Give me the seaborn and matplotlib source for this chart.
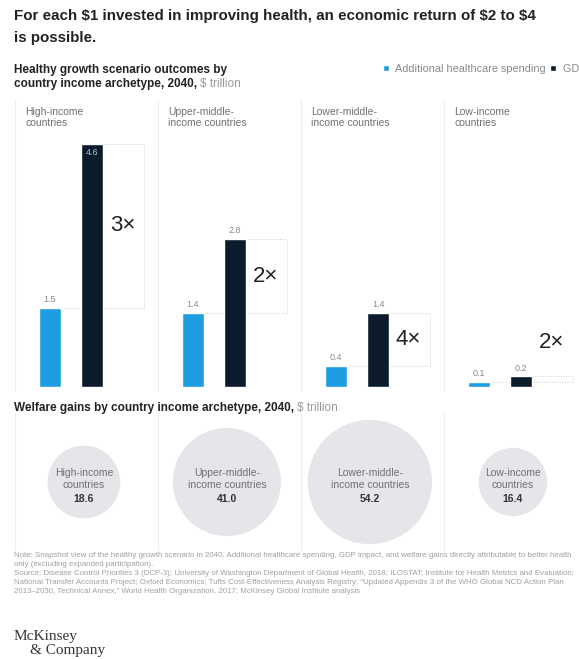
import pandas as pd
import matplotlib.pyplot as plt
import seaborn as sns
import numpy as np

# DATOS

archetypes = [
    "High-income\ncountries",
    "Upper-middle-\nincome countries",
    "Lower-middle-\nincome countries",
    "Low-income\ncountries",
]
measures = ["Additional healthcare spending", "GDP impact"]
spending = [1.5, 1.4, 0.4, 0.1]
gdp_impact = [4.6, 2.8, 1.4, 0.2]
multipliers = ["3×", "2×", "4×", "2×"]
welfare_gains = [18.6, 41.0, 54.2, 16.4]

BLUE = "#1F9DE3"
DARK = "#0B1B2B"
GREY_TXT = "#707070"
LINE = "#D0D0D0"

df = pd.DataFrame({
    "archetype": archetypes * 2,
    "measure": [measures[0]] * 4 + [measures[1]] * 4,
    "value": spending + gdp_impact,
})
df_w = pd.DataFrame({
    "x": np.arange(len(archetypes)) + 0.09,
    "y": np.zeros(len(archetypes)),
    "welfare": welfare_gains,
})

# FIGURA

sns.set_theme(style="white")
plt.rcParams["font.family"] = ["Liberation Sans", "DejaVu Sans"]

W, H = 579, 659
fig = plt.figure(figsize=(W / 100, H / 100), dpi=100)


def fx(px):
    return px / W


def fy(py):
    return 1 - py / H


XLIM = (-71 / 143, (W - 71) / 143)

# Gráfico 1: barras

ax = fig.add_axes([0, fy(392), 1, (392 - 100) / H])
sns.barplot(
    data=df, x="archetype", y="value", hue="measure",
    order=archetypes, hue_order=measures,
    palette=[BLUE, DARK], width=0.59, gap=0.48,
    errorbar=None, ax=ax, saturation=1,
)
ax.set_xlim(*XLIM)
ax.set_ylim(-5 / 52.8, 287 / 52.8)
ax.set_xticks([])
ax.set_yticks([])
ax.set_xlabel("")
ax.set_ylabel("")
sns.despine(ax=ax, left=True, bottom=True)

for i, name in enumerate(archetypes):
    ax.axvline(i - 0.39, color="#EEEEEE", lw=0.8, zorder=0)
    ax.text(i - 0.32, 5.31, name, color=GREY_TXT, fontsize=7.5,
            va="top", ha="left", linespacing=1.2)

blue_bars = ax.containers[0]
dark_bars = ax.containers[1]
for i in range(len(archetypes)):
    b = blue_bars[i]
    d = dark_bars[i]
    bv = spending[i]
    dv = gdp_impact[i]
    xr = i + 0.51
    # caja punteada
    ax.plot([b.get_x() + b.get_width(), xr], [bv, bv], color=LINE, lw=0.7, ls=":", zorder=0)
    ax.plot([d.get_x() + d.get_width(), xr], [dv, dv], color=LINE, lw=0.7, ls=":", zorder=0)
    ax.plot([xr, xr], [bv, dv], color=LINE, lw=0.7, ls=":", zorder=0)
    # etiquetas de valor
    ax.text(b.get_x() + b.get_width() / 2, bv + 0.07, f"{bv:.1f}",
            ha="center", va="bottom", fontsize=6.5, color="#8A8A8A")
    if dv + 0.35 > 4.8:
        ax.text(d.get_x() + d.get_width() / 2, dv - 0.07, f"{dv:.1f}",
                ha="center", va="top", fontsize=6.5, color="#B8BEC6")
    else:
        ax.text(d.get_x() + d.get_width() / 2, dv + 0.07, f"{dv:.1f}",
                ha="center", va="bottom", fontsize=6.5, color="#8A8A8A")
    ax.text(i + 0.27, max((bv + dv) / 2, 0.85), multipliers[i],
            ha="left", va="center", fontsize=16, color="#222222")

sns.move_legend(
    ax, loc="upper left", bbox_to_anchor=(fx(383), fy(64)),
    bbox_transform=fig.transFigure, ncol=2, frameon=False, title=None,
    fontsize=7.8, handlelength=0.55, handleheight=0.55, handletextpad=0.6,
    columnspacing=0.4, borderpad=0, borderaxespad=0,
)
for t in ax.get_legend().get_texts():
    t.set_color("#8A8A8A")

# Gráfico 2: bienestar

ax2 = fig.add_axes([0, fy(551), 1, (551 - 413) / H])
sns.scatterplot(
    data=df_w, x="x", y="y", size="welfare",
    sizes=(0, 8000), size_norm=(0, max(welfare_gains)),
    color="#E4E6E9", edgecolor="none", legend=False, ax=ax2,
)
ax2.set_xlim(*XLIM)
ax2.set_ylim(-1, 1)
ax2.set_xticks([])
ax2.set_yticks([])
ax2.set_xlabel("")
ax2.set_ylabel("")
sns.despine(ax=ax2, left=True, bottom=True)
for c in ax2.collections:
    c.set_clip_on(False)

for i, name in enumerate(archetypes):
    ax2.axvline(i - 0.39, color="#EEEEEE", lw=0.8, zorder=0)
    xc = df_w["x"][i]
    ax2.text(xc, 0.04, name, ha="center", va="center", fontsize=7.5,
             color=GREY_TXT, linespacing=1.3)
    ax2.text(xc, -0.25, f"{welfare_gains[i]:.1f}", ha="center", va="center",
             fontsize=7.5, color="#333333", weight="bold")

# TEXTOS

fig.text(fx(14), fy(9), "For each $1 invested in improving health, an economic return of $2 to $4\nis possible.",
         ha="left", va="top", fontsize=10.9, weight="bold", color="#222222", linespacing=1.7)

renderer = fig.canvas.get_renderer()


def two_part(x_px, y_px, bold, light):
    t = fig.text(fx(x_px), fy(y_px), bold, ha="left", va="top", fontsize=8.5,
                 weight="bold", color="#222222")
    bb = t.get_window_extent(renderer=renderer)
    fig.text(bb.x1 / W, fy(y_px), light, ha="left", va="top", fontsize=8.5,
             color="#9A9A9A")


fig.text(fx(14), fy(64), "Healthy growth scenario outcomes by", ha="left", va="top",
         fontsize=8.5, weight="bold", color="#222222")
two_part(14, 78, "country income archetype, 2040, ", "$ trillion")
two_part(14, 402, "Welfare gains by country income archetype, 2040, ", "$ trillion")

notes = (
    "Note: Snapshot view of the healthy growth scenario in 2040. Additional healthcare spending, GDP impact, and welfare gains directly attributable to better health\n"
    "only (excluding expanded participation).\n"
    "Source: Disease Control Priorities 3 (DCP-3); University of Washington Department of Global Health, 2018; ILOSTAT; Institute for Health Metrics and Evaluation;\n"
    "National Transfer Accounts Project; Oxford Economics; Tufts Cost-Effectiveness Analysis Registry; “Updated Appendix 3 of the WHO Global NCD Action Plan\n"
    "2013–2030, Technical Annex,” World Health Organization, 2017; McKinsey Global Institute analysis"
)
fig.text(fx(14), fy(552), notes, ha="left", va="top", fontsize=5.7,
         color="#A0A0A0", linespacing=1.4)

fig.text(fx(14), fy(630), "McKinsey", ha="left", va="top", fontsize=11,
         color="#333333", family="Liberation Serif")
fig.text(fx(30), fy(644), "& Company", ha="left", va="top", fontsize=11,
         color="#333333", family="Liberation Serif")

plt.savefig("out.png", dpi=100)
